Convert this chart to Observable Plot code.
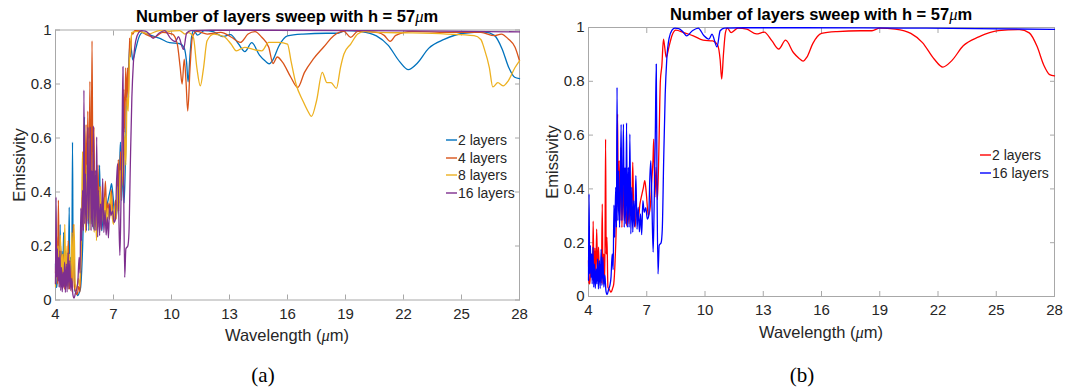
<!DOCTYPE html>
<html><head><meta charset="utf-8">
<script src="https://cdn.jsdelivr.net/npm/d3@7"></script>
<script src="https://cdn.jsdelivr.net/npm/@observablehq/plot@0.6"></script>
<style>
body{margin:0;background:#fff;width:1069px;height:390px;position:relative;overflow:hidden;font-family:"Liberation Sans",Arial,sans-serif;color:#262626;}
.abs{position:absolute;white-space:nowrap;line-height:1;}
.ctr{transform:translate(-50%,-50%);}
.title{font-weight:bold;font-size:16.5px;color:#000;}
.xlab{font-size:16.5px;}
.ylab{font-size:16.5px;transform:translate(-50%,-50%) rotate(-90deg);}
.cap{font-family:"Liberation Serif",serif;font-size:21px;color:#000;}
.mu{font-style:italic;font-weight:normal;font-family:"Liberation Serif",serif;}
.leg{font-size:14px;display:flex;align-items:center;height:16px;}
.leg svg{margin-right:1px;}
#pa{position:absolute;left:0;top:0;}
#pb{position:absolute;left:540px;top:0;}
</style></head>
<body>
<div id="pa"></div>
<div id="pb"></div>
<script>
// ---- data ----
const xTicks = [4, 7, 10, 13, 16, 19, 22, 25, 28];
const yTicks = [0, 0.2, 0.4, 0.6, 0.8, 1];
const yTickLabels = ["0", "0.2", "0.4", "0.6", "0.8", "1"];
const titleText = "Number of layers sweep with h = 57";
const xLabelText = "Wavelength (";
const yLabelText = "Emissivity";
const captions = ["(a)", "(b)"];
const namesA = ["2 layers", "4 layers", "8 layers", "16 layers"];
const namesB = ["2 layers", "16 layers"];

// [wavelength (µm), emissivity]
const layers2 = [[4.00,0.134],[4.03,0.05],[4.07,0.047],[4.12,0.12],[4.17,0.158],[4.21,0.06],[4.24,0.28],[4.28,0.07],[4.33,0.18],[4.38,0.084],[4.42,0.25],[4.47,0.10],[4.52,0.183],[4.56,0.072],[4.61,0.109],[4.66,0.05],[4.71,0.344],[4.74,0.047],[4.79,0.158],[4.84,0.06],[4.88,0.585],[4.91,0.158],[4.95,0.22],[5.00,0.035],[5.08,0.025],[5.16,0.016],[5.24,0.03],[5.30,0.047],[5.37,0.134],[5.44,0.307],[5.50,0.678],[5.53,0.332],[5.58,0.505],[5.62,0.282],[5.67,0.554],[5.72,0.257],[5.78,0.431],[5.84,0.282],[5.90,0.369],[5.96,0.264],[6.02,0.332],[6.09,0.27],[6.15,0.406],[6.22,0.30],[6.28,0.499],[6.33,0.295],[6.40,0.257],[6.47,0.332],[6.55,0.282],[6.65,0.344],[6.75,0.38],[6.83,0.406],[6.90,0.431],[6.98,0.381],[7.08,0.30],[7.18,0.332],[7.26,0.431],[7.32,0.505],[7.36,0.585],[7.42,0.369],[7.48,0.48],[7.55,0.36],[7.62,0.53],[7.70,0.80],[7.78,0.86],[7.86,0.957],[7.92,0.93],[8.00,0.889],[8.15,0.93],[8.30,0.97],[8.50,0.99],[8.90,0.981],[9.40,0.969],[9.90,0.953],[10.40,0.95],[10.65,0.935],[10.78,0.88],[10.86,0.808],[10.95,0.90],[11.05,0.98],[11.15,0.998],[11.35,0.981],[11.70,0.998],[12.15,0.994],[12.65,0.976],[13.05,0.983],[13.45,0.95],[13.80,0.92],[14.15,0.953],[14.55,0.907],[14.85,0.885],[15.05,0.875],[15.25,0.89],[15.55,0.94],[16.00,0.978],[16.80,0.985],[18.00,0.988],[18.60,0.988],[19.00,0.998],[19.80,0.994],[20.60,0.978],[21.20,0.944],[21.80,0.883],[22.25,0.853],[22.70,0.876],[23.30,0.932],[24.10,0.965],[25.10,0.988],[26.20,0.992],[26.70,0.98],[27.10,0.93],[27.45,0.86],[27.75,0.825],[28.00,0.82]];

const layers4 = [[4.00,0.10],[4.05,0.25],[4.10,0.06],[4.15,0.37],[4.20,0.08],[4.27,0.20],[4.33,0.05],[4.40,0.17],[4.46,0.04],[4.52,0.14],[4.60,0.05],[4.66,0.22],[4.72,0.04],[4.80,0.12],[4.86,0.03],[4.92,0.28],[4.97,0.05],[5.05,0.03],[5.12,0.02],[5.20,0.05],[5.27,0.03],[5.33,0.20],[5.38,0.38],[5.42,0.27],[5.47,0.55],[5.52,0.30],[5.58,0.65],[5.62,0.29],[5.67,0.70],[5.72,0.33],[5.78,0.81],[5.83,0.30],[5.89,0.96],[5.94,0.35],[5.99,0.64],[6.04,0.28],[6.10,0.45],[6.15,0.30],[6.20,0.50],[6.26,0.27],[6.32,0.42],[6.38,0.30],[6.45,0.38],[6.50,0.33],[6.58,0.44],[6.65,0.32],[6.72,0.36],[6.80,0.30],[6.88,0.41],[6.95,0.34],[7.02,0.30],[7.10,0.37],[7.18,0.33],[7.25,0.52],[7.30,0.36],[7.36,0.55],[7.42,0.42],[7.48,0.50],[7.53,0.78],[7.58,0.62],[7.63,0.86],[7.68,0.72],[7.73,0.86],[7.78,0.75],[7.83,0.97],[7.88,0.90],[7.94,0.99],[8.00,0.985],[8.10,0.998],[8.30,0.998],[8.65,0.985],[9.10,0.973],[9.55,0.991],[10.05,0.985],[10.30,0.948],[10.45,0.861],[10.55,0.80],[10.66,0.892],[10.75,0.81],[10.84,0.70],[10.96,0.861],[11.08,0.973],[11.30,0.995],[11.85,0.985],[12.55,0.991],[13.10,0.973],[13.56,0.954],[13.96,0.985],[14.32,0.994],[14.67,0.973],[15.03,0.936],[15.25,0.876],[15.47,0.90],[15.75,0.88],[16.18,0.824],[16.53,0.787],[16.88,0.843],[17.33,0.892],[17.86,0.936],[18.39,0.979],[18.92,0.995],[19.27,0.973],[19.63,0.995],[20.69,0.99],[21.00,0.98],[21.31,0.958],[21.60,0.98],[22.46,0.995],[24.23,0.991],[26.00,0.991],[26.70,0.979],[27.06,0.985],[27.42,0.967],[27.77,0.936],[28.00,0.886]];

const layers8 = [[4.00,0.05],[4.04,0.25],[4.09,0.10],[4.14,0.20],[4.20,0.05],[4.25,0.24],[4.30,0.10],[4.36,0.17],[4.42,0.06],[4.48,0.28],[4.53,0.08],[4.60,0.20],[4.65,0.04],[4.72,0.17],[4.78,0.05],[4.85,0.25],[4.90,0.07],[4.96,0.28],[5.02,0.06],[5.10,0.04],[5.18,0.08],[5.25,0.05],[5.30,0.15],[5.35,0.32],[5.40,0.55],[5.45,0.28],[5.50,0.42],[5.56,0.25],[5.62,0.50],[5.67,0.30],[5.73,0.60],[5.78,0.26],[5.84,0.45],[5.90,0.28],[5.95,0.55],[6.00,0.25],[6.06,0.40],[6.12,0.22],[6.18,0.38],[6.24,0.30],[6.30,0.42],[6.36,0.26],[6.42,0.35],[6.50,0.28],[6.57,0.38],[6.63,0.27],[6.70,0.34],[6.78,0.30],[6.85,0.40],[6.92,0.32],[7.00,0.28],[7.08,0.35],[7.15,0.30],[7.22,0.42],[7.28,0.33],[7.35,0.48],[7.40,0.37],[7.46,0.55],[7.52,0.45],[7.58,0.62],[7.64,0.50],[7.70,0.75],[7.76,0.70],[7.82,0.88],[7.88,0.93],[7.95,0.991],[8.30,0.995],[8.83,0.985],[9.36,0.998],[9.89,0.995],[10.42,0.998],[10.70,0.985],[10.87,0.99],[11.13,0.973],[11.31,0.861],[11.49,0.793],[11.66,0.861],[11.84,0.96],[12.19,0.985],[12.73,0.975],[13.08,0.948],[13.35,0.923],[13.79,0.936],[14.32,0.926],[14.67,0.923],[15.03,0.954],[15.56,0.954],[16.00,0.948],[16.18,0.886],[16.44,0.80],[16.80,0.737],[17.05,0.70],[17.24,0.68],[17.50,0.737],[17.80,0.843],[18.04,0.805],[18.25,0.805],[18.53,0.784],[18.74,0.861],[18.92,0.911],[19.27,0.948],[19.63,0.985],[19.98,0.995],[20.69,0.991],[22.46,0.989],[24.23,0.985],[25.65,0.979],[26.00,0.965],[26.18,0.93],[26.44,0.861],[26.62,0.789],[26.88,0.805],[27.15,0.793],[27.42,0.812],[27.77,0.861],[28.00,0.886]];

const layers16 = [[4.00,0.06],[4.03,0.381],[4.06,0.084],[4.10,0.19],[4.13,0.07],[4.16,0.158],[4.19,0.047],[4.23,0.183],[4.27,0.035],[4.31,0.121],[4.35,0.03],[4.39,0.103],[4.43,0.047],[4.47,0.14],[4.51,0.028],[4.56,0.134],[4.60,0.03],[4.65,0.175],[4.69,0.041],[4.74,0.146],[4.79,0.035],[4.84,0.08],[4.90,0.02],[4.96,0.007],[5.03,0.025],[5.10,0.04],[5.16,0.072],[5.22,0.158],[5.27,0.10],[5.31,0.34],[5.35,0.22],[5.40,0.406],[5.44,0.257],[5.47,0.777],[5.51,0.282],[5.55,0.468],[5.60,0.257],[5.64,0.394],[5.68,0.64],[5.72,0.282],[5.76,0.443],[5.80,0.641],[5.84,0.257],[5.88,0.48],[5.92,0.27],[5.96,0.645],[6.00,0.257],[6.05,0.48],[6.09,0.257],[6.13,0.604],[6.18,0.233],[6.23,0.406],[6.28,0.239],[6.33,0.356],[6.38,0.26],[6.44,0.45],[6.50,0.25],[6.56,0.332],[6.62,0.24],[6.68,0.307],[6.74,0.23],[6.80,0.356],[6.87,0.313],[6.95,0.33],[7.03,0.288],[7.10,0.30],[7.16,0.443],[7.21,0.505],[7.27,0.332],[7.33,0.165],[7.38,0.332],[7.44,0.60],[7.49,0.864],[7.53,0.40],[7.58,0.084],[7.64,0.19],[7.74,0.20],[7.80,0.25],[7.87,0.50],[7.95,0.75],[8.03,0.88],[8.15,0.96],[8.30,0.99],[8.45,0.998],[8.65,0.996],[8.85,0.985],[9.05,0.969],[9.35,0.988],[9.65,0.998],[9.95,0.969],[10.20,0.957],[10.36,0.975],[10.62,0.928],[10.78,0.988],[11.00,0.998],[12.00,0.999],[15.00,0.999],[20.00,0.998],[24.00,0.996],[28.00,0.993]];

const colorsA = ["#0072BD", "#D95319", "#EDB120", "#7E2F8E"];
const colorsB = ["#FF0000", "#0000FF"];

// ---- build ----
const toRows = (arr, name) => arr.map(([wl, em]) => ({wl, em, series: name}));
const rowsA = [
  ...toRows(layers2, namesA[0]), ...toRows(layers4, namesA[1]),
  ...toRows(layers8, namesA[2]), ...toRows(layers16, namesA[3])
];
const rowsB = [...toRows(layers2, namesB[0]), ...toRows(layers16, namesB[1])];

const axisColor = "#a8a8a8";
const fmtY = d => yTickLabels[yTicks.indexOf(d)];

function panel({width, height, mL, mR, mT, mB, rows, names, colors, padX}) {
  return Plot.plot({
    width, height, marginLeft: mL, marginRight: mR, marginTop: mT, marginBottom: mB,
    style: {fontFamily: "'Liberation Sans', Arial, sans-serif", fontSize: "15px", color: "#262626", background: "white", overflow: "visible"},
    x: {domain: [4, 28]},
    y: {domain: [0, 1]},
    color: {domain: names, range: colors},
    marks: [
      Plot.frame({stroke: axisColor, strokeWidth: 1}),
      Plot.axisX(xTicks, {anchor: "bottom", tickSize: 0, tickPadding: padX, label: null, fontSize: 15}),
      Plot.axisY(yTicks, {anchor: "left", tickSize: 0, tickPadding: 4, label: null, tickFormat: fmtY, fontSize: 15}),
      Plot.axisX(xTicks, {anchor: "bottom", tickSize: 5, dy: -5, fill: "none", stroke: axisColor, label: null}),
      Plot.axisX(xTicks, {anchor: "top", tickSize: 5, dy: 5, fill: "none", stroke: axisColor, label: null}),
      Plot.axisY(yTicks, {anchor: "left", tickSize: 5, dx: 5, fill: "none", stroke: axisColor, label: null}),
      Plot.axisY(yTicks, {anchor: "right", tickSize: 5, dx: -5, fill: "none", stroke: axisColor, label: null}),
      Plot.line(rows, {x: "wl", y: "em", z: "series", stroke: "series", strokeWidth: 1.3, curve: "monotone-x"})
    ]
  });
}

document.getElementById("pa").append(panel({width: 540, height: 345, mL: 55, mR: 21, mT: 29.5, mB: 45.5, rows: rowsA, names: namesA, colors: colorsA, padX: 8}));
document.getElementById("pb").append(panel({width: 529, height: 345, mL: 48, mR: 15, mT: 27, mB: 49, rows: rowsB, names: namesB, colors: colorsB, padX: 8}));

// ---- text & legends ----
function addText(cls, x, y, html) {
  const d = document.createElement("div");
  d.className = "abs " + cls;
  d.style.left = x + "px"; d.style.top = y + "px";
  d.innerHTML = html;
  document.body.append(d);
}
const titleHtml = titleText + '<span class="mu">μ</span>m';
const xlabHtml = xLabelText + '<span class="mu">μ</span>m)';
addText("ctr title", 287, 16.5, titleHtml);
addText("ctr title", 821, 15, titleHtml);
addText("ctr xlab", 287, 336, xlabHtml);
addText("ctr xlab", 821, 333, xlabHtml);
addText("ylab", 18.5, 164.5, yLabelText);
addText("ylab", 552, 161.5, yLabelText);
addText("ctr cap", 263, 375, captions[0]);
addText("ctr cap", 802, 375, captions[1]);

function legend(x, y0, step, names, colors) {
  names.forEach((n, i) => {
    const top = Math.round(y0 + i * step - 8);
    addText("leg", x, top, `<svg width="11" height="16"><line x1="0" x2="11" y1="8" y2="8" stroke="${colors[i]}" stroke-width="1.4"/></svg>${n}`);
  });
}
legend(446, 140, 17.6, namesA, colorsA);
legend(980, 155, 17.5, namesB, colorsB);
</script>
</body></html>
